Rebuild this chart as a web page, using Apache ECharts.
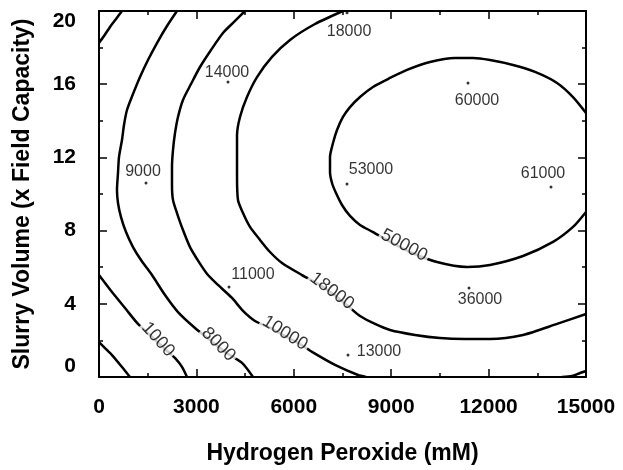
<!DOCTYPE html>
<html><head><meta charset="utf-8">
<script src="https://cdn.jsdelivr.net/npm/echarts/dist/echarts.min.js"></script>
<style>html,body{margin:0;padding:0;background:#fff}#c{width:623px;height:470px}</style>
</head><body><div id="c"></div>
<script>
// ---- data ----
const xAxisTitle = 'Hydrogen Peroxide (mM)';
const yAxisTitle = 'Slurry Volume (x Field Capacity)';

const contourCornerTL = [[708,20],[524,19.56],[339,19.13],[154,18.63],[0,18.25]];
const contourCornerBL = [[0,1.91],[185,1.58],[400,1.2],[708,0.55],[955,0]];
const contour1000 = [[0,5.57],[400,4.64],[801,3.77],[1201,2.90],[1632,2.19],[2033,1.53],[2372,0.98],[2556,0.55],[2710,0]];
const contour8000 = [[2402,20],[2094,19.18],[1786,18.25],[1509,17.32],[1263,16.39],[1047,15.46],[862,14.59],[770,13.77],[708,12.95],[616,12.02],[585,11.15],[554,10.22],[585,9.51],[678,8.74],[832,7.92],[1047,7.10],[1294,6.39],[1632,5.57],[2033,4.48],[2433,3.55],[2957,2.68],[3419,2.02],[3881,1.37],[4405,0.77],[4743,0]];
const contour10000 = [[4497,20],[4158,19.40],[3819,18.80],[3450,17.87],[3111,16.94],[2834,16.01],[2587,15.14],[2433,14.21],[2341,13.33],[2279,12.40],[2248,11.48],[2248,10.49],[2279,9.67],[2402,8.96],[2587,8.03],[2803,7.10],[3080,6.28],[3357,5.57],[3665,5.03],[4097,4.32],[4435,3.61],[4805,3.06],[5267,2.68],[5729,2.24],[6191,1.80],[6561,1.37],[7269,0.66],[7977,0.11],[8224,0]];
const contour18000 = [[7515,20],[6653,19.29],[5883,18.42],[5329,17.49],[4867,16.39],[4558,15.30],[4343,14.21],[4251,13.22],[4251,12.40],[4251,11.04],[4281,9.67],[4435,8.96],[4651,8.20],[4959,7.49],[5267,6.83],[5637,6.23],[6253,5.57],[6746,5.08],[7208,4.54],[7639,3.93],[8039,3.33],[8501,2.90],[8963,2.57],[9733,2.30],[10503,2.13],[11273,2.08],[12043,2.08],[13060,2.30],[14107,2.90],[15000,3.44]];
const contour50000 = [[15000,14.43],[14600,15.30],[14107,16.07],[13429,16.67],[12752,17.05],[12043,17.32],[11520,17.43],[10965,17.43],[10195,17.21],[9487,16.78],[8963,16.34],[8439,15.85],[8039,15.30],[7731,14.75],[7515,14.21],[7331,13.50],[7208,12.79],[7115,12.02],[7115,11.20],[7177,10.60],[7300,10.05],[7485,9.40],[7731,8.80],[8039,8.31],[8439,7.92],[8963,7.38],[9579,6.83],[10411,6.28],[11335,6.01],[12043,6.12],[13060,6.61],[13984,7.38],[14600,8.20],[15000,9.02]];
const contourCornerBR = [[14261,0],[14569,0.05],[14815,0.22],[15000,0.33]];

const contourLabelText = ['1000','8000','10000','18000','50000'];
const contourLabelX = [1817, 3680, 5729, 7177, 9400];
const contourLabelY = [2.05, 1.78, 2.4, 4.7, 7.2];

const pointX = [1448, 3973, 7640, 7639, 11366, 13922, 4004, 11396, 7670];
const pointY = [10.6, 16.12, 19.9, 10.55, 16.07, 10.38, 4.92, 4.86, 1.20];
const pointLabels = ['9000','14000','18000','53000','60000','61000','11000','36000','13000'];

// ---- styling / placement ----
const contourLabelAngle = [-48, -45, -32, -37, -28];
const pointLabelOffsets = [[-3,-11],[-1,-9],[2,19],[24,-14],[9,18],[-8,-13],[24,-12],[11,12],[31,-3]];
const FONT = "'Liberation Sans', Arial, Helvetica, sans-serif";

const contours = [contourCornerTL, contourCornerBL, contour1000, contour8000, contour10000, contour18000, contour50000, contourCornerBR];

const lineSeries = contours.map(c => ({
  type: 'line', data: c, showSymbol: false, smooth: 0.25, z: 2,
  lineStyle: { color: '#000', width: 2.5 }, silent: true
}));

const contourLabelSeries = {
  type: 'scatter', z: 5, zlevel: 1, symbolSize: 1, itemStyle: { color: 'rgba(0,0,0,0)' },
  data: contourLabelText.map((t, i) => ({
    value: [contourLabelX[i], contourLabelY[i]],
    label: {
      show: true, position: 'inside', formatter: t, rotate: contourLabelAngle[i],
      fontFamily: FONT, fontSize: 18, color: '#000', backgroundColor: '#fff', padding: [3, 2]
    }
  }))
};

const pointSeries = {
  type: 'scatter', z: 6, zlevel: 1, symbolSize: 3, itemStyle: { color: '#000' },
  data: pointX.map((x, i) => ({
    value: [x, pointY[i]],
    label: {
      show: true, position: 'inside', formatter: pointLabels[i], offset: pointLabelOffsets[i],
      fontFamily: FONT, fontSize: 16, color: '#000'
    }
  }))
};

const tickStyle = { show: true, inside: true, length: 8, lineStyle: { color: '#000', width: 1.5 } };
const minorStyle = { show: true, splitNumber: 2, length: 4, lineStyle: { color: '#000', width: 1.5 } };
const lineStyleAxis = { show: true, onZero: false, lineStyle: { color: '#000', width: 2 } };

const chart = echarts.init(document.getElementById('c'), null, { renderer: 'canvas' });
chart.setOption({
  animation: false,
  backgroundColor: '#fff',
  grid: { left: 99, top: 11, width: 487, height: 366, outerBoundsMode: 'none', containLabel: false },
  xAxis: [{
    type: 'value', min: 0, max: 15000, interval: 3000, position: 'bottom',
    name: xAxisTitle, nameLocation: 'middle', nameGap: 65,
    nameTextStyle: { fontFamily: FONT, fontSize: 23, fontWeight: 'bold', color: '#000' },
    axisLine: lineStyleAxis, axisTick: tickStyle, minorTick: minorStyle,
    splitLine: { show: false },
    axisLabel: { show: true, margin: 20, showMinLabel: true, showMaxLabel: true, fontFamily: FONT, fontSize: 21, fontWeight: 'bold', color: '#000', formatter: v => String(v) }
  }, {
    type: 'value', min: 0, max: 15000, interval: 3000, position: 'top',
    axisLine: lineStyleAxis, axisTick: tickStyle, minorTick: minorStyle,
    splitLine: { show: false }, axisLabel: { show: false }
  }],
  yAxis: [{
    type: 'value', min: 0, max: 20, interval: 4, position: 'left',
    name: yAxisTitle, nameLocation: 'middle', nameGap: 65, nameRotate: 90,
    nameTextStyle: { fontFamily: FONT, fontSize: 23, fontWeight: 'bold', color: '#000' },
    axisLine: lineStyleAxis, axisTick: tickStyle, minorTick: minorStyle,
    splitLine: { show: false },
    axisLabel: {
      show: true, margin: 23, showMinLabel: true, showMaxLabel: true,
      fontFamily: FONT, fontSize: 21, fontWeight: 'bold', color: '#000',
      formatter: v => v === 0 ? '{lo|0}' : (v === 20 ? '{hi|20}' : String(v)),
      rich: {
        lo: { fontFamily: FONT, fontSize: 21, fontWeight: 'bold', color: '#000', padding: [0, 0, 22, 0] },
        hi: { fontFamily: FONT, fontSize: 21, fontWeight: 'bold', color: '#000', padding: [20, 0, 0, 0] }
      }
    }
  }, {
    type: 'value', min: 0, max: 20, interval: 4, position: 'right',
    axisLine: lineStyleAxis, axisTick: tickStyle, minorTick: minorStyle,
    splitLine: { show: false }, axisLabel: { show: false }
  }],
  series: [...lineSeries, contourLabelSeries, pointSeries]
});
</script></body></html>
